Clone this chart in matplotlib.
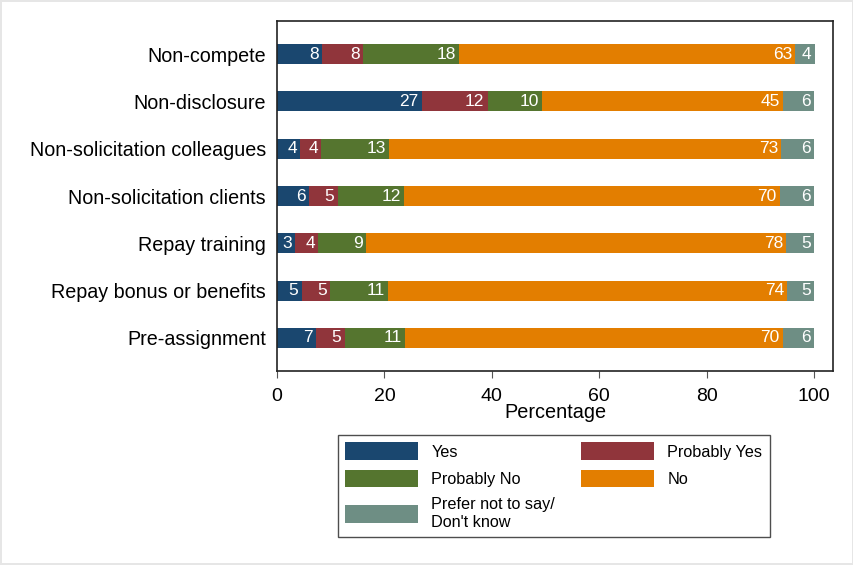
import numpy as np
import matplotlib
matplotlib.use('Agg')
import matplotlib.pyplot as plt
from matplotlib.patches import Patch

plt.rcParams['font.family'] = ['Liberation Sans', 'DejaVu Sans']

categories = ['Non-compete', 'Non-disclosure', 'Non-solicitation colleagues',
              'Non-solicitation clients', 'Repay training',
              'Repay bonus or benefits', 'Pre-assignment']
answers = ['Yes', 'Probably Yes', 'Probably No', 'No', 'Prefer not to say/\nDon\'t know']

# percentages per answer, one value per category
yes = [8.4, 27.0, 4.3, 5.9, 3.4, 4.6, 7.2]
prob_yes = [7.6, 12.2, 3.9, 5.4, 4.3, 5.3, 5.4]
prob_no = [17.9, 10.1, 12.6, 12.4, 8.9, 10.7, 11.2]
no = [62.6, 44.9, 73.1, 69.9, 78.2, 74.4, 70.3]
dont_know = [3.6, 5.8, 6.1, 6.3, 5.2, 5.0, 5.9]

colors = ['#1a476f', '#90353b', '#55752f', '#e37e00', '#6e8e84']
series = [yes, prob_yes, prob_no, no, dont_know]

fig = plt.figure(figsize=(8.54, 5.65), dpi=100)
fig.patch.set_edgecolor('#e6e6e6')
fig.patch.set_linewidth(1.5)
ax = fig.add_axes([277/854, 1 - 371/565, (833-277)/854, (371-21)/565])

y = np.arange(len(categories))
left = np.zeros(len(categories))
for vals, c in zip(series, colors):
    vals = np.array(vals)
    ax.barh(y, vals, left=left, height=0.42, color=c, edgecolor='none')
    for yi, l, v in zip(y, left, vals):
        ax.text(l + v - 0.6, yi, '%.0f' % v, ha='right', va='center',
                color='white', fontsize=12.5)
    left = left + vals

ax.set_xlim(0, 103.5)
ax.set_ylim(6.7, -0.7)
ax.set_yticks(y)
ax.set_yticklabels(categories, fontsize=14.2)
ax.set_xticks([0, 20, 40, 60, 80, 100])
ax.tick_params(axis='x', labelsize=14, length=5, color='#555555', pad=7)
ax.tick_params(axis='y', length=0, pad=8)
for s in ax.spines.values():
    s.set_color('#222222')
    s.set_linewidth(1.2)
ax.set_xlabel('Percentage', fontsize=14.3, labelpad=-1)

handles = [Patch(facecolor=c, edgecolor='none') for c in colors]
order = [0, 2, 4, 1, 3]
leg = fig.legend([handles[i] for i in order], [answers[i] for i in order],
                 ncol=2, loc='upper left',
                 bbox_to_anchor=(338/854, 1 - 435/565), borderaxespad=0,
                 fontsize=11.7, handlelength=4.5, handleheight=1.3,
                 handletextpad=0.8, columnspacing=1.6, labelspacing=0.6,
                 borderpad=0.45, fancybox=False, frameon=True)
leg.get_frame().set_edgecolor('#222222')
leg.get_frame().set_linewidth(1.0)

fig.savefig('out.png', dpi=100)
